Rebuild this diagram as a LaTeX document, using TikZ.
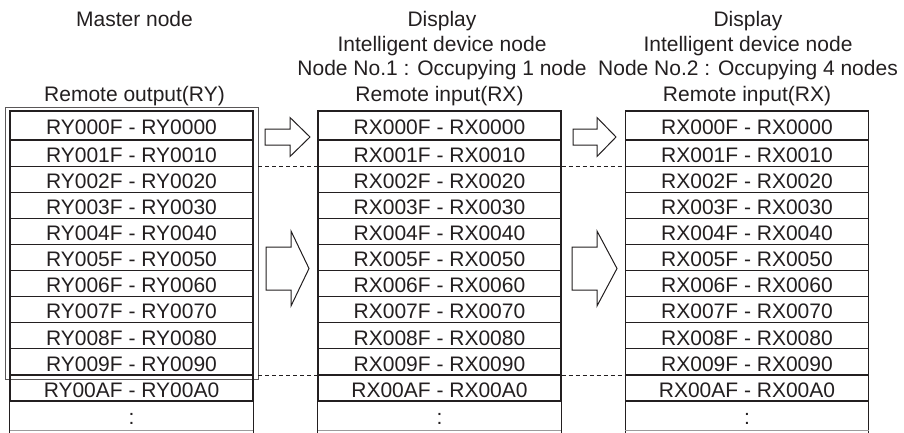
\documentclass[tikz,border=0pt]{standalone}
\usepackage{fontspec}
\setmainfont{Liberation Sans}
\definecolor{ink}{HTML}{231F20}
\begin{document}
\begin{tikzpicture}[x=1pt,y=-1pt,
  font=\fontsize{21}{24.5}\selectfont,
  cell/.style={draw=ink, line width=1.2pt, minimum width=243pt, inner sep=0pt,
    text height=18.5pt, text depth=0pt, text=ink},
  lastcell/.style={minimum width=243pt, minimum height=29pt, inner sep=0pt,
    text height=18.5pt, text depth=0pt, text=ink},
  hdr/.style={anchor=base, inner sep=0pt, text=ink},
  framebox/.style={draw=ink!75, line width=0.7pt, minimum width=253pt,
    minimum height=271.5pt, inner sep=0pt},
  blockarrow/.style={draw=ink, line width=1pt, fill=white, line join=miter},
  dashline/.style={draw=ink, line width=0.8pt, dash pattern=on 4pt off 3pt},
  sideline/.style={draw=ink, line width=1.2pt},
  baseline/.style={draw=ink!45, line width=0.8pt}
]
\useasboundingbox (0,0) rectangle (904,433);

% headers
\node[hdr] (m1) at (134.5,27) {Master node};
\node[hdr] (m2) at (134.5,102) {Remote output(RY)};
\node[hdr] (d1) at (442,27) {Display};
\node[hdr] (d2) at (442,52) {Intelligent device node};
\node[hdr] (d3) at (442,76) {Node No.1 : Occupying 1 node};
\node[hdr] (d4) at (439.5,102) {Remote input(RX)};
\node[hdr] (e1) at (748,27) {Display};
\node[hdr] (e2) at (748,52) {Intelligent device node};
\node[hdr] (e3) at (748,76) {Node No.2 : Occupying 4 nodes};
\node[hdr] (e4) at (747,102) {Remote input(RX)};

% outer frame of master table
\node[framebox] (frame) at (131.5,243.25) {};

% table rows
\foreach \h [count=\i from 0] in {0,1,2,3,4,5,6,7,8,9,A} {
  \pgfmathsetmacro\yc{\i==0 ? 125.5 : 140+(\i-0.5)*26.1}
  \pgfmathsetmacro\hh{\i==0 ? 29 : 26.1}
  \node[cell, minimum height=\hh pt] (a\i) at (131.5,\yc) {RY00\h F - RY00\h 0};
  \node[cell, minimum height=\hh pt] (b\i) at (439.5,\yc) {RX00\h F - RX00\h 0};
  \node[cell, minimum height=\hh pt] (c\i) at (747,\yc) {RX00\h F - RX00\h 0};
}
% last (continuation) rows
\node[lastcell] (a11) at (131.5,415.5) {:};
\node[lastcell] (b11) at (439.5,415.5) {:};
\node[lastcell] (c11) at (747,415.5) {:};
\foreach \t in {a,b,c} {
  \draw[sideline] (\t11.north west) -- ([yshift=-3pt]\t11.south west);
  \draw[sideline] (\t11.north east) -- ([yshift=-3pt]\t11.south east);
  \draw[baseline] (\t11.south west) -- (\t11.south east);
}

% dashed separators
\draw[dashline] (frame.east |- a1.south) -- (b1.south west);
\draw[dashline] (b1.south east) -- (c1.south west);
\draw[dashline] (frame.east |- a9.south) -- (b9.south west);
\draw[dashline] (b9.south east) -- (c9.south west);

% block arrows
\draw[blockarrow] (265,129) -- (290,129) -- (290,117.5) -- (310,137) -- (290,156.5) -- (290,145) -- (265,145) -- cycle;
\draw[blockarrow] (573,129) -- (597,129) -- (597,117.5) -- (616,137) -- (597,156.5) -- (597,145) -- (573,145) -- cycle;
\draw[blockarrow] (266,247) -- (291,247) -- (291,231) -- (309,268.5) -- (291,306) -- (291,290) -- (266,290) -- cycle;
\draw[blockarrow] (572,247) -- (597,247) -- (597,231) -- (617,268.5) -- (597,306) -- (597,290) -- (572,290) -- cycle;
\end{tikzpicture}
\end{document}
